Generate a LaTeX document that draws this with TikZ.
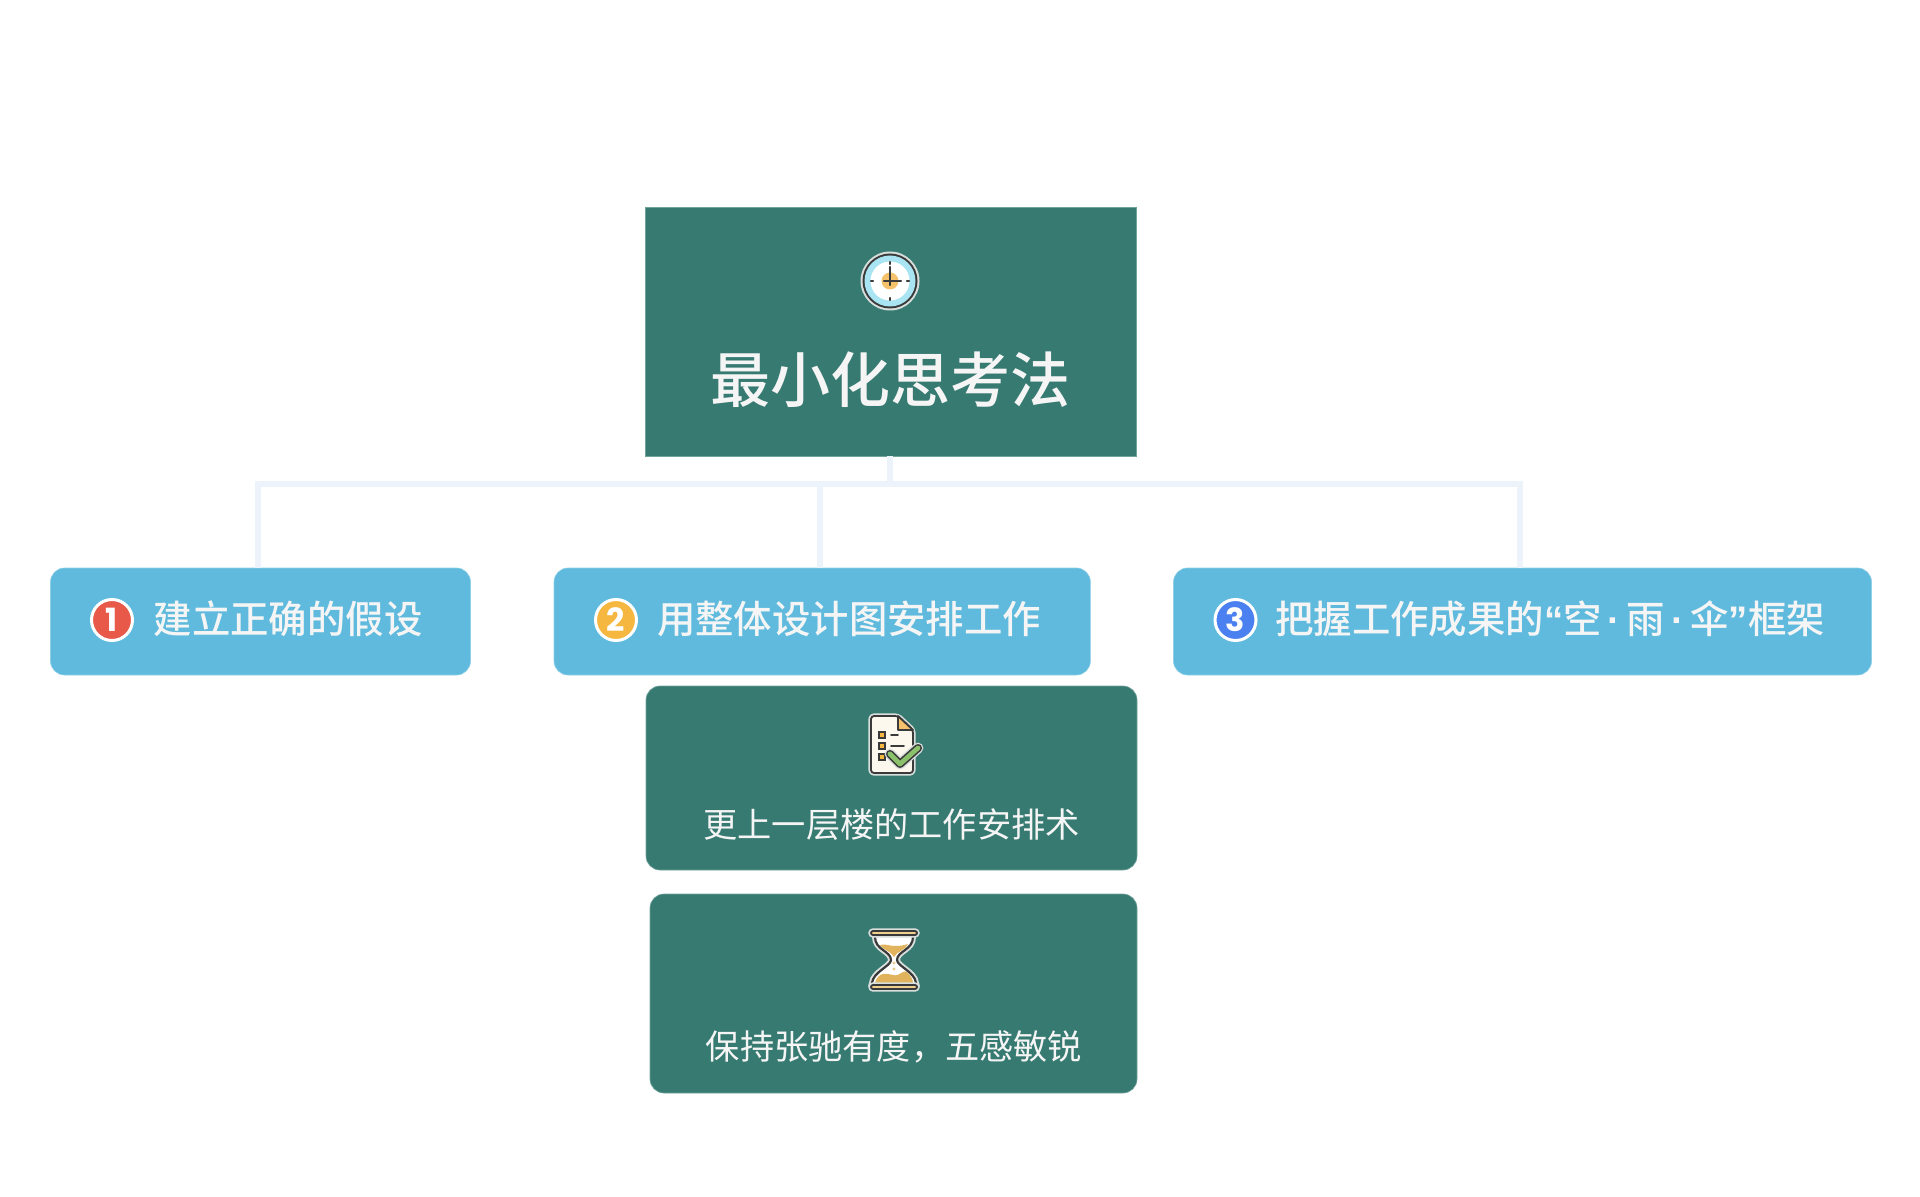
\documentclass[tikz,border=0pt]{standalone}
\usepackage{fontspec}
\usepackage{xcolor}
\setmainfont{Noto Sans CJK SC}
\newfontfamily\midfont{Noto Sans CJK SC Medium}
\newfontfamily\latinfont{Liberation Sans}
\newfontfamily\numfont{Poppins}
\usetikzlibrary{
    calc,
    positioning
}
\definecolor{rootgreen}{HTML}{367A71}
\definecolor{skyblue}{HTML}{5FBADD}
\definecolor{linkblue}{HTML}{EDF3FA}
\definecolor{inkdark}{HTML}{3A3A3A}
\definecolor{halo}{HTML}{D8DEDC}
\definecolor{sand}{HTML}{E0B35C}
\definecolor{capsand}{HTML}{EFCF8E}
\definecolor{paper}{HTML}{FDF8EE}
\definecolor{numred}{HTML}{E8594A}
\definecolor{numorange}{HTML}{F5B73F}
\definecolor{numblue}{HTML}{4A80F0}
\definecolor{dialblue}{HTML}{A8E4F2}
\definecolor{dialorange}{HTML}{F5C26B}
\definecolor{tickgreen}{HTML}{8CC16B}
\tikzset{
    rootbox/.style={fill=rootgreen, draw=rootgreen!70!white, line width=0.3pt, inner sep=0pt, minimum width=245.5pt, minimum height=124.5pt},
    topicbox/.style={fill=skyblue, draw=skyblue!70!white, line width=0.3pt, rounded corners=7pt, inner sep=0pt, minimum height=53.5pt},
    subbox/.style={fill=rootgreen, draw=rootgreen!70!white, line width=0.3pt, rounded corners=7pt, inner sep=0pt},
    badge/.style={circle, draw=white, line width=1.5pt, inner sep=0pt, minimum size=20.5pt, text=white, font=\numfont\bfseries\fontsize{16}{16}\selectfont},
    link/.style={draw=linkblue, line width=3pt},
    titletext/.style={text=white!96!black, font=\midfont\fontsize{30}{31}\selectfont},
    topictext/.style={text=white!96!black, font=\midfont\fontsize{19.2}{20}\selectfont},
    subtext/.style={text=white!96!black, font=\fontsize{17.1}{19}\selectfont},
    iconline/.style={draw=inkdark, line width=0.9pt, line join=round, line cap=round}
}
\begin{document}
\begin{tikzpicture}[x=0.5pt, y=-0.5pt]
                                \useasboundingbox (0, 0) rectangle (1920, 1197);
                                \node[rootbox] (root) at (890.5, 331.5) {};
                                \node[topicbox, minimum width=210pt] (box1) at (260.5, 621.5) {};
                                \node[topicbox, minimum width=268.2pt] (box2) at (822.2, 621.5) {};
                                \node[topicbox, minimum width=349pt] (box3) at (1522.5, 621.5) {};
                                \node[subbox, minimum width=245.5pt, minimum height=92pt] (sub1) at (891.5, 778) {};
                                \node[subbox, minimum width=243.5pt, minimum height=99.5pt] (sub2) at (893.5, 993.5) {};
                                \coordinate (bus) at (889.5, 484);
                                \coordinate (top) at (889.5, 456);
                                \coordinate (drop1) at (258, 568);
                                \coordinate (drop2) at (819.5, 568);
                                \coordinate (drop3) at (1520, 568);
                                \draw[link]
                                (top) -- (bus)
                                (bus) -| (drop1)
                                (bus) -| (drop2)
                                (bus) -| (drop3);
                                \node[titletext] (title) at (890, 380) {最小化思考法};
                                \node[badge, fill=numred] (num1) at (112, 620) {1};
                                \node[topictext] (topic1) at (288, 619) {建立正确的假设};
                                \node[badge, fill=numorange] (num2) at (616, 620) {2};
                                \node[topictext] (topic2) at (849, 619) {用整体设计图安排工作};
                                \node[badge, fill=numblue] (num3) at (1235.5, 620) {3};
                                \node[topictext] (topic3) at (1550, 619) {把握工作成果的{\latinfont\bfseries “}空{\latinfont\bfseries\kern3.1pt·\kern3.1pt}雨{\latinfont\bfseries\kern3.1pt·\kern3.1pt}伞{\latinfont\bfseries ”}框架};
                                \node[subtext] (sub1text) at (891.5, 825) {更上一层楼的工作安排术};
                                \node[subtext] (sub2text) at (894, 1047) {保持张驰有度，五感敏锐};
                                \fill[halo] (890, 281) circle (29.5);
                                \fill[inkdark] (890, 281) circle (27.5);
                                \fill[dialblue] (890, 281) circle (25.5);
                                \fill[white] (890, 281) circle (19.5);
                                \fill[dialorange] (890, 281) circle (8.5);
                                \draw[iconline, line width=1.1pt]
                                (890, 285) -- (890, 267)
                                (884, 281) -- (901, 281)
                                (890, 262) -- (890, 264)
                                (890, 298) -- (890, 300)
                                (871, 281) -- (873, 281)
                                (907, 281) -- (909, 281);
                                \draw[halo, line width=2.6pt, line join=round, rounded corners=1.5pt] (871, 716) -- (898, 716) -- (913, 730) -- (913, 773) -- (871, 773) -- cycle;
                                \draw[iconline, fill=paper, rounded corners=1.5pt] (871, 716) -- (898, 716) -- (913, 730) -- (913, 773) -- (871, 773) -- cycle;
                                \draw[iconline, fill=dialorange] (898, 716) -- (913, 730) -- (898, 730) -- cycle;
                                \foreach \rowy in {735, 746, 757}
                                \draw[inkdark, line width=0.8pt, fill=numorange] (879, \rowy-3) rectangle (885, \rowy+3);
                                \draw[iconline] (891, 735) -- (898, 735) (891, 746) -- (904, 746);
                                \draw[halo, line width=5.4pt, line join=round, line cap=round] (890, 754) -- (900, 764) -- (918, 748);
                                \draw[inkdark, line width=4pt, line join=round, line cap=round] (890, 754) -- (900, 764) -- (918, 748);
                                \draw[tickgreen, line width=2.4pt, line join=round, line cap=round] (890, 754) -- (900, 764) -- (918, 748);
                                \draw[halo, line width=3pt, fill=white] (875, 937) .. controls (875, 950) and (891, 951) .. (891, 960) .. controls (891, 966) and (873, 972) .. (872, 983) -- (916, 983) .. controls (915, 972) and (897, 966) .. (897, 960) .. controls (897, 951) and (913, 950) .. (913, 937) -- cycle;
                                \fill[white] (875, 937) .. controls (875, 950) and (891, 951) .. (891, 960) .. controls (891, 966) and (873, 972) .. (872, 983) -- (916, 983) .. controls (915, 972) and (897, 966) .. (897, 960) .. controls (897, 951) and (913, 950) .. (913, 937) -- cycle;
                                \fill[sand] (880, 945) .. controls (888, 943) and (892, 949) .. (908, 944) .. controls (906, 950) and (897, 951) .. (894, 957) .. controls (891, 951) and (883, 950) .. (880, 945) -- cycle;
                                \fill[sand] (875, 983) .. controls (878, 972) and (886, 973) .. (893, 975) .. controls (900, 977) and (903, 969) .. (907, 972) .. controls (910, 975) and (913, 979) .. (913, 983) -- cycle;
                                \fill[sand!70!white] (894, 963) circle (1.6) (894, 969) circle (1.6);
                                \draw[iconline, line width=1.1pt] (875, 937) .. controls (875, 950) and (891, 951) .. (891, 960) .. controls (891, 966) and (873, 972) .. (872, 983);
                                \draw[iconline, line width=1.1pt] (913, 937) .. controls (913, 950) and (897, 951) .. (897, 960) .. controls (897, 966) and (915, 972) .. (916, 983);
                                \draw[halo, line width=2.6pt, rounded corners=1pt] (871, 931) rectangle (917, 935) (871, 985) rectangle (917, 989);
                                \draw[iconline, fill=capsand, rounded corners=1pt] (871, 931) rectangle (917, 935);
                                \draw[iconline, fill=capsand, rounded corners=1pt] (871, 985) rectangle (917, 989);
                            \end{tikzpicture}
\end{document}
